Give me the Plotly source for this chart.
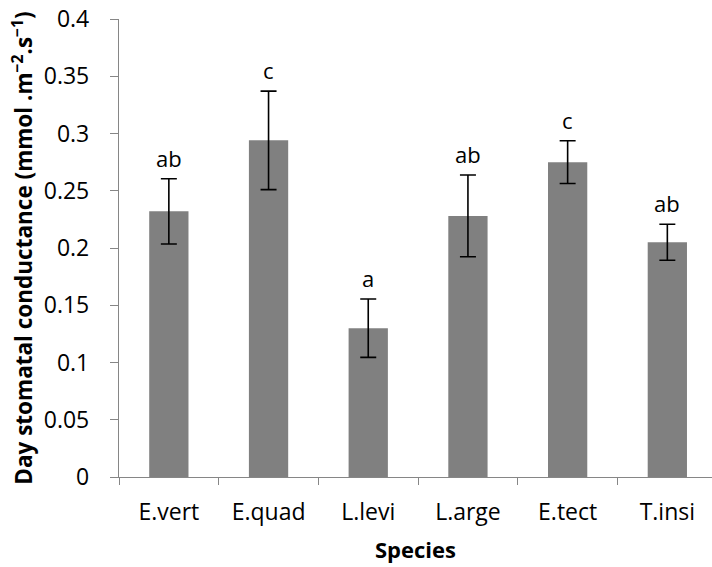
import plotly.graph_objects as go

species = ["E.vert", "E.quad", "L.levi", "L.arge", "E.tect", "T.insi"]
conductance = [0.232, 0.294, 0.130, 0.228, 0.275, 0.205]
std_err = [0.0285, 0.043, 0.0255, 0.0357, 0.0187, 0.0157]
letters = ["ab", "c", "a", "ab", "c", "ab"]
y_ticks = [0, 0.05, 0.1, 0.15, 0.2, 0.25, 0.3, 0.35, 0.4]
y_tick_text = ["0", "0.05", "0.1", "0.15", "0.2", "0.25", "0.3", "0.35", "0.4"]

FONT = "Open Sans"
AXIS_COLOR = "#868686"

fig = go.Figure()
fig.add_trace(go.Bar(
    x=species,
    y=conductance,
    width=0.394,
    marker=dict(color="#808080", line=dict(width=0)),
    error_y=dict(type="data", array=std_err, visible=True,
                 color="black", thickness=1.6, width=8),
    showlegend=False,
    hoverinfo="skip",
))

for sp, v, e, lab in zip(species, conductance, std_err, letters):
    fig.add_annotation(x=sp, y=v + e, text=lab, showarrow=False,
                       yanchor="bottom", yshift=4,
                       font=dict(family=FONT, size=22, color="black"))

fig.update_layout(
    width=712, height=567,
    margin=dict(l=119, r=0, t=19, b=90),
    paper_bgcolor="white", plot_bgcolor="white",
    font=dict(family=FONT, color="black"),
    bargap=0.6,
)

fig.update_xaxes(
    type="category",
    range=[-0.5, 5.448],
    showline=True, linecolor=AXIS_COLOR, linewidth=1.3,
    ticks="outside", tickson="boundaries", ticklen=7, tickcolor=AXIS_COLOR, tickwidth=1.3,
    tickfont=dict(family=FONT, size=23, color="black"),
    ticklabelstandoff=14,
    showgrid=False, zeroline=False,
    title=dict(text="<b>Species</b>", font=dict(family=FONT, size=22, color="black"), standoff=16),
)

fig.update_yaxes(
    range=[0, 0.4],
    tickvals=y_ticks, ticktext=y_tick_text,
    showline=True, linecolor=AXIS_COLOR, linewidth=1.3,
    ticks="outside", ticklen=8, tickcolor=AXIS_COLOR, tickwidth=1.3,
    tickfont=dict(family=FONT, size=23, color="black"),
    ticklabelstandoff=16,
    showgrid=False, zeroline=False,
    title=dict(text="<b>Day stomatal conductance (mmol .m<sup>\u22122</sup>.s<sup>\u22121</sup>)</b>",
               font=dict(family=FONT, size=22.5, color="black"), standoff=4),
)

fig.write_html("out.html")
